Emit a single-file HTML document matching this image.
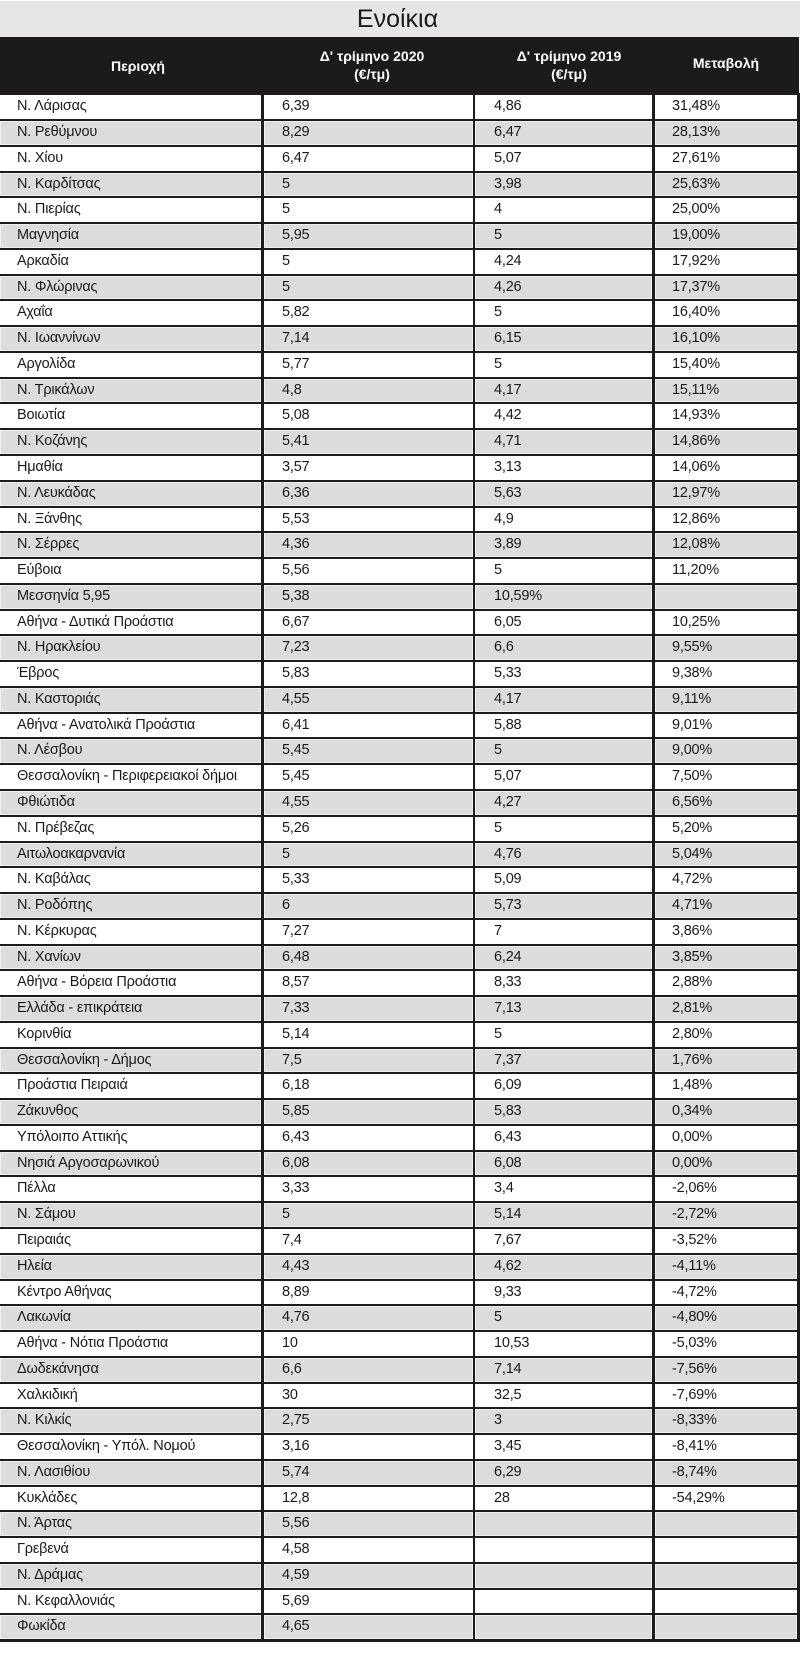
<!DOCTYPE html>
<html>
<head>
<meta charset="utf-8">
<style>
html,body{margin:0;padding:0}
body{width:800px;height:1654px;background:#fff;position:relative;overflow:hidden;font-family:"Liberation Sans",Arial,sans-serif;color:#1a1a1a}
.title{position:absolute;left:0;top:1px;width:800px;height:36px;background:#e6e6e6;line-height:36px;font-size:25px;text-align:center;color:#1a1a1a;padding-right:5px;box-sizing:border-box}
.head{position:absolute;left:0;top:37px;width:799px;height:57px;background:#1c1a1a}
.h{position:absolute;color:#fff;font-weight:bold;font-size:14px;line-height:18px;text-align:center;white-space:nowrap}
.rows{position:absolute;left:0;top:93.3px;width:799px}
.r{height:25.78px;border-top:2.5px solid #1c1c1c;box-sizing:border-box;position:relative;background:#fff}
.c{position:absolute;top:0;bottom:0;line-height:23.3px;white-space:nowrap;font-size:14.5px;letter-spacing:-0.2px;box-sizing:border-box}
.c1{left:0;width:261px;padding-left:17px}
.c2{left:263.5px;width:209px;padding-left:18.5px}
.c3{left:475px;width:177px;padding-left:19px}
.c4{left:654.5px;width:142px;padding-left:17.5px}
.g .c{background:#dcdcdc;box-shadow:inset 0 0 0 1px #efefef}
.endl{height:2.6px;background:#1c1c1c}
.v{position:absolute;top:93px;height:1549px;background:#1c1c1c}
</style>
</head>
<body>
<div class="title">Ενοίκια</div>
<div class="head">
  <div class="h" style="left:0;width:276px;top:20px;">Περιοχή</div>
  <div class="h" style="left:263px;width:218px;top:10px;">Δ' τρίμηνο 2020<br>(€/τμ)</div>
  <div class="h" style="left:475px;width:188px;top:10px;">Δ' τρίμηνο 2019<br>(€/τμ)</div>
  <div class="h" style="left:654px;width:144px;top:17px;">Μεταβολή</div>
</div>
<div class="rows">
<div class="r"><div class="c c1">Ν. Λάρισας</div><div class="c c2">6,39</div><div class="c c3">4,86</div><div class="c c4">31,48%</div></div>
<div class="r g"><div class="c c1">Ν. Ρεθύμνου</div><div class="c c2">8,29</div><div class="c c3">6,47</div><div class="c c4">28,13%</div></div>
<div class="r"><div class="c c1">Ν. Χίου</div><div class="c c2">6,47</div><div class="c c3">5,07</div><div class="c c4">27,61%</div></div>
<div class="r g"><div class="c c1">Ν. Καρδίτσας</div><div class="c c2">5</div><div class="c c3">3,98</div><div class="c c4">25,63%</div></div>
<div class="r"><div class="c c1">Ν. Πιερίας</div><div class="c c2">5</div><div class="c c3">4</div><div class="c c4">25,00%</div></div>
<div class="r g"><div class="c c1">Μαγνησία</div><div class="c c2">5,95</div><div class="c c3">5</div><div class="c c4">19,00%</div></div>
<div class="r"><div class="c c1">Αρκαδία</div><div class="c c2">5</div><div class="c c3">4,24</div><div class="c c4">17,92%</div></div>
<div class="r g"><div class="c c1">Ν. Φλώρινας</div><div class="c c2">5</div><div class="c c3">4,26</div><div class="c c4">17,37%</div></div>
<div class="r"><div class="c c1">Αχαΐα</div><div class="c c2">5,82</div><div class="c c3">5</div><div class="c c4">16,40%</div></div>
<div class="r g"><div class="c c1">Ν. Ιωαννίνων</div><div class="c c2">7,14</div><div class="c c3">6,15</div><div class="c c4">16,10%</div></div>
<div class="r"><div class="c c1">Αργολίδα</div><div class="c c2">5,77</div><div class="c c3">5</div><div class="c c4">15,40%</div></div>
<div class="r g"><div class="c c1">Ν. Τρικάλων</div><div class="c c2">4,8</div><div class="c c3">4,17</div><div class="c c4">15,11%</div></div>
<div class="r"><div class="c c1">Βοιωτία</div><div class="c c2">5,08</div><div class="c c3">4,42</div><div class="c c4">14,93%</div></div>
<div class="r g"><div class="c c1">Ν. Κοζάνης</div><div class="c c2">5,41</div><div class="c c3">4,71</div><div class="c c4">14,86%</div></div>
<div class="r"><div class="c c1">Ημαθία</div><div class="c c2">3,57</div><div class="c c3">3,13</div><div class="c c4">14,06%</div></div>
<div class="r g"><div class="c c1">Ν. Λευκάδας</div><div class="c c2">6,36</div><div class="c c3">5,63</div><div class="c c4">12,97%</div></div>
<div class="r"><div class="c c1">Ν. Ξάνθης</div><div class="c c2">5,53</div><div class="c c3">4,9</div><div class="c c4">12,86%</div></div>
<div class="r g"><div class="c c1">Ν. Σέρρες</div><div class="c c2">4,36</div><div class="c c3">3,89</div><div class="c c4">12,08%</div></div>
<div class="r"><div class="c c1">Εύβοια</div><div class="c c2">5,56</div><div class="c c3">5</div><div class="c c4">11,20%</div></div>
<div class="r g"><div class="c c1">Μεσσηνία 5,95</div><div class="c c2">5,38</div><div class="c c3">10,59%</div><div class="c c4"></div></div>
<div class="r"><div class="c c1">Αθήνα - Δυτικά Προάστια</div><div class="c c2">6,67</div><div class="c c3">6,05</div><div class="c c4">10,25%</div></div>
<div class="r g"><div class="c c1">Ν. Ηρακλείου</div><div class="c c2">7,23</div><div class="c c3">6,6</div><div class="c c4">9,55%</div></div>
<div class="r"><div class="c c1">Έβρος</div><div class="c c2">5,83</div><div class="c c3">5,33</div><div class="c c4">9,38%</div></div>
<div class="r g"><div class="c c1">Ν. Καστοριάς</div><div class="c c2">4,55</div><div class="c c3">4,17</div><div class="c c4">9,11%</div></div>
<div class="r"><div class="c c1">Αθήνα - Ανατολικά Προάστια</div><div class="c c2">6,41</div><div class="c c3">5,88</div><div class="c c4">9,01%</div></div>
<div class="r g"><div class="c c1">Ν. Λέσβου</div><div class="c c2">5,45</div><div class="c c3">5</div><div class="c c4">9,00%</div></div>
<div class="r"><div class="c c1">Θεσσαλονίκη - Περιφερειακοί δήμοι</div><div class="c c2">5,45</div><div class="c c3">5,07</div><div class="c c4">7,50%</div></div>
<div class="r g"><div class="c c1">Φθιώτιδα</div><div class="c c2">4,55</div><div class="c c3">4,27</div><div class="c c4">6,56%</div></div>
<div class="r"><div class="c c1">Ν. Πρέβεζας</div><div class="c c2">5,26</div><div class="c c3">5</div><div class="c c4">5,20%</div></div>
<div class="r g"><div class="c c1">Αιτωλοακαρνανία</div><div class="c c2">5</div><div class="c c3">4,76</div><div class="c c4">5,04%</div></div>
<div class="r"><div class="c c1">Ν. Καβάλας</div><div class="c c2">5,33</div><div class="c c3">5,09</div><div class="c c4">4,72%</div></div>
<div class="r g"><div class="c c1">Ν. Ροδόπης</div><div class="c c2">6</div><div class="c c3">5,73</div><div class="c c4">4,71%</div></div>
<div class="r"><div class="c c1">Ν. Κέρκυρας</div><div class="c c2">7,27</div><div class="c c3">7</div><div class="c c4">3,86%</div></div>
<div class="r g"><div class="c c1">Ν. Χανίων</div><div class="c c2">6,48</div><div class="c c3">6,24</div><div class="c c4">3,85%</div></div>
<div class="r"><div class="c c1">Αθήνα - Βόρεια Προάστια</div><div class="c c2">8,57</div><div class="c c3">8,33</div><div class="c c4">2,88%</div></div>
<div class="r g"><div class="c c1">Ελλάδα - επικράτεια</div><div class="c c2">7,33</div><div class="c c3">7,13</div><div class="c c4">2,81%</div></div>
<div class="r"><div class="c c1">Κορινθία</div><div class="c c2">5,14</div><div class="c c3">5</div><div class="c c4">2,80%</div></div>
<div class="r g"><div class="c c1">Θεσσαλονίκη - Δήμος</div><div class="c c2">7,5</div><div class="c c3">7,37</div><div class="c c4">1,76%</div></div>
<div class="r"><div class="c c1">Προάστια Πειραιά</div><div class="c c2">6,18</div><div class="c c3">6,09</div><div class="c c4">1,48%</div></div>
<div class="r g"><div class="c c1">Ζάκυνθος</div><div class="c c2">5,85</div><div class="c c3">5,83</div><div class="c c4">0,34%</div></div>
<div class="r"><div class="c c1">Υπόλοιπο Αττικής</div><div class="c c2">6,43</div><div class="c c3">6,43</div><div class="c c4">0,00%</div></div>
<div class="r g"><div class="c c1">Νησιά Αργοσαρωνικού</div><div class="c c2">6,08</div><div class="c c3">6,08</div><div class="c c4">0,00%</div></div>
<div class="r"><div class="c c1">Πέλλα</div><div class="c c2">3,33</div><div class="c c3">3,4</div><div class="c c4">-2,06%</div></div>
<div class="r g"><div class="c c1">Ν. Σάμου</div><div class="c c2">5</div><div class="c c3">5,14</div><div class="c c4">-2,72%</div></div>
<div class="r"><div class="c c1">Πειραιάς</div><div class="c c2">7,4</div><div class="c c3">7,67</div><div class="c c4">-3,52%</div></div>
<div class="r g"><div class="c c1">Ηλεία</div><div class="c c2">4,43</div><div class="c c3">4,62</div><div class="c c4">-4,11%</div></div>
<div class="r"><div class="c c1">Κέντρο Αθήνας</div><div class="c c2">8,89</div><div class="c c3">9,33</div><div class="c c4">-4,72%</div></div>
<div class="r g"><div class="c c1">Λακωνία</div><div class="c c2">4,76</div><div class="c c3">5</div><div class="c c4">-4,80%</div></div>
<div class="r"><div class="c c1">Αθήνα - Νότια Προάστια</div><div class="c c2">10</div><div class="c c3">10,53</div><div class="c c4">-5,03%</div></div>
<div class="r g"><div class="c c1">Δωδεκάνησα</div><div class="c c2">6,6</div><div class="c c3">7,14</div><div class="c c4">-7,56%</div></div>
<div class="r"><div class="c c1">Χαλκιδική</div><div class="c c2">30</div><div class="c c3">32,5</div><div class="c c4">-7,69%</div></div>
<div class="r g"><div class="c c1">Ν. Κιλκίς</div><div class="c c2">2,75</div><div class="c c3">3</div><div class="c c4">-8,33%</div></div>
<div class="r"><div class="c c1">Θεσσαλονίκη - Υπόλ. Νομού</div><div class="c c2">3,16</div><div class="c c3">3,45</div><div class="c c4">-8,41%</div></div>
<div class="r g"><div class="c c1">Ν. Λασιθίου</div><div class="c c2">5,74</div><div class="c c3">6,29</div><div class="c c4">-8,74%</div></div>
<div class="r"><div class="c c1">Κυκλάδες</div><div class="c c2">12,8</div><div class="c c3">28</div><div class="c c4">-54,29%</div></div>
<div class="r g"><div class="c c1">Ν. Άρτας</div><div class="c c2">5,56</div><div class="c c3"></div><div class="c c4"></div></div>
<div class="r"><div class="c c1">Γρεβενά</div><div class="c c2">4,58</div><div class="c c3"></div><div class="c c4"></div></div>
<div class="r g"><div class="c c1">Ν. Δράμας</div><div class="c c2">4,59</div><div class="c c3"></div><div class="c c4"></div></div>
<div class="r"><div class="c c1">Ν. Κεφαλλονιάς</div><div class="c c2">5,69</div><div class="c c3"></div><div class="c c4"></div></div>
<div class="r g"><div class="c c1">Φωκίδα</div><div class="c c2">4,65</div><div class="c c3"></div><div class="c c4"></div></div>
<div class="endl"></div>
</div>
<div class="v" style="left:261px;width:2.5px;"></div>
<div class="v" style="left:472.5px;width:2.5px;"></div>
<div class="v" style="left:652px;width:2.5px;"></div>
<div class="v" style="left:796.5px;width:3px;"></div>
</body>
</html>
